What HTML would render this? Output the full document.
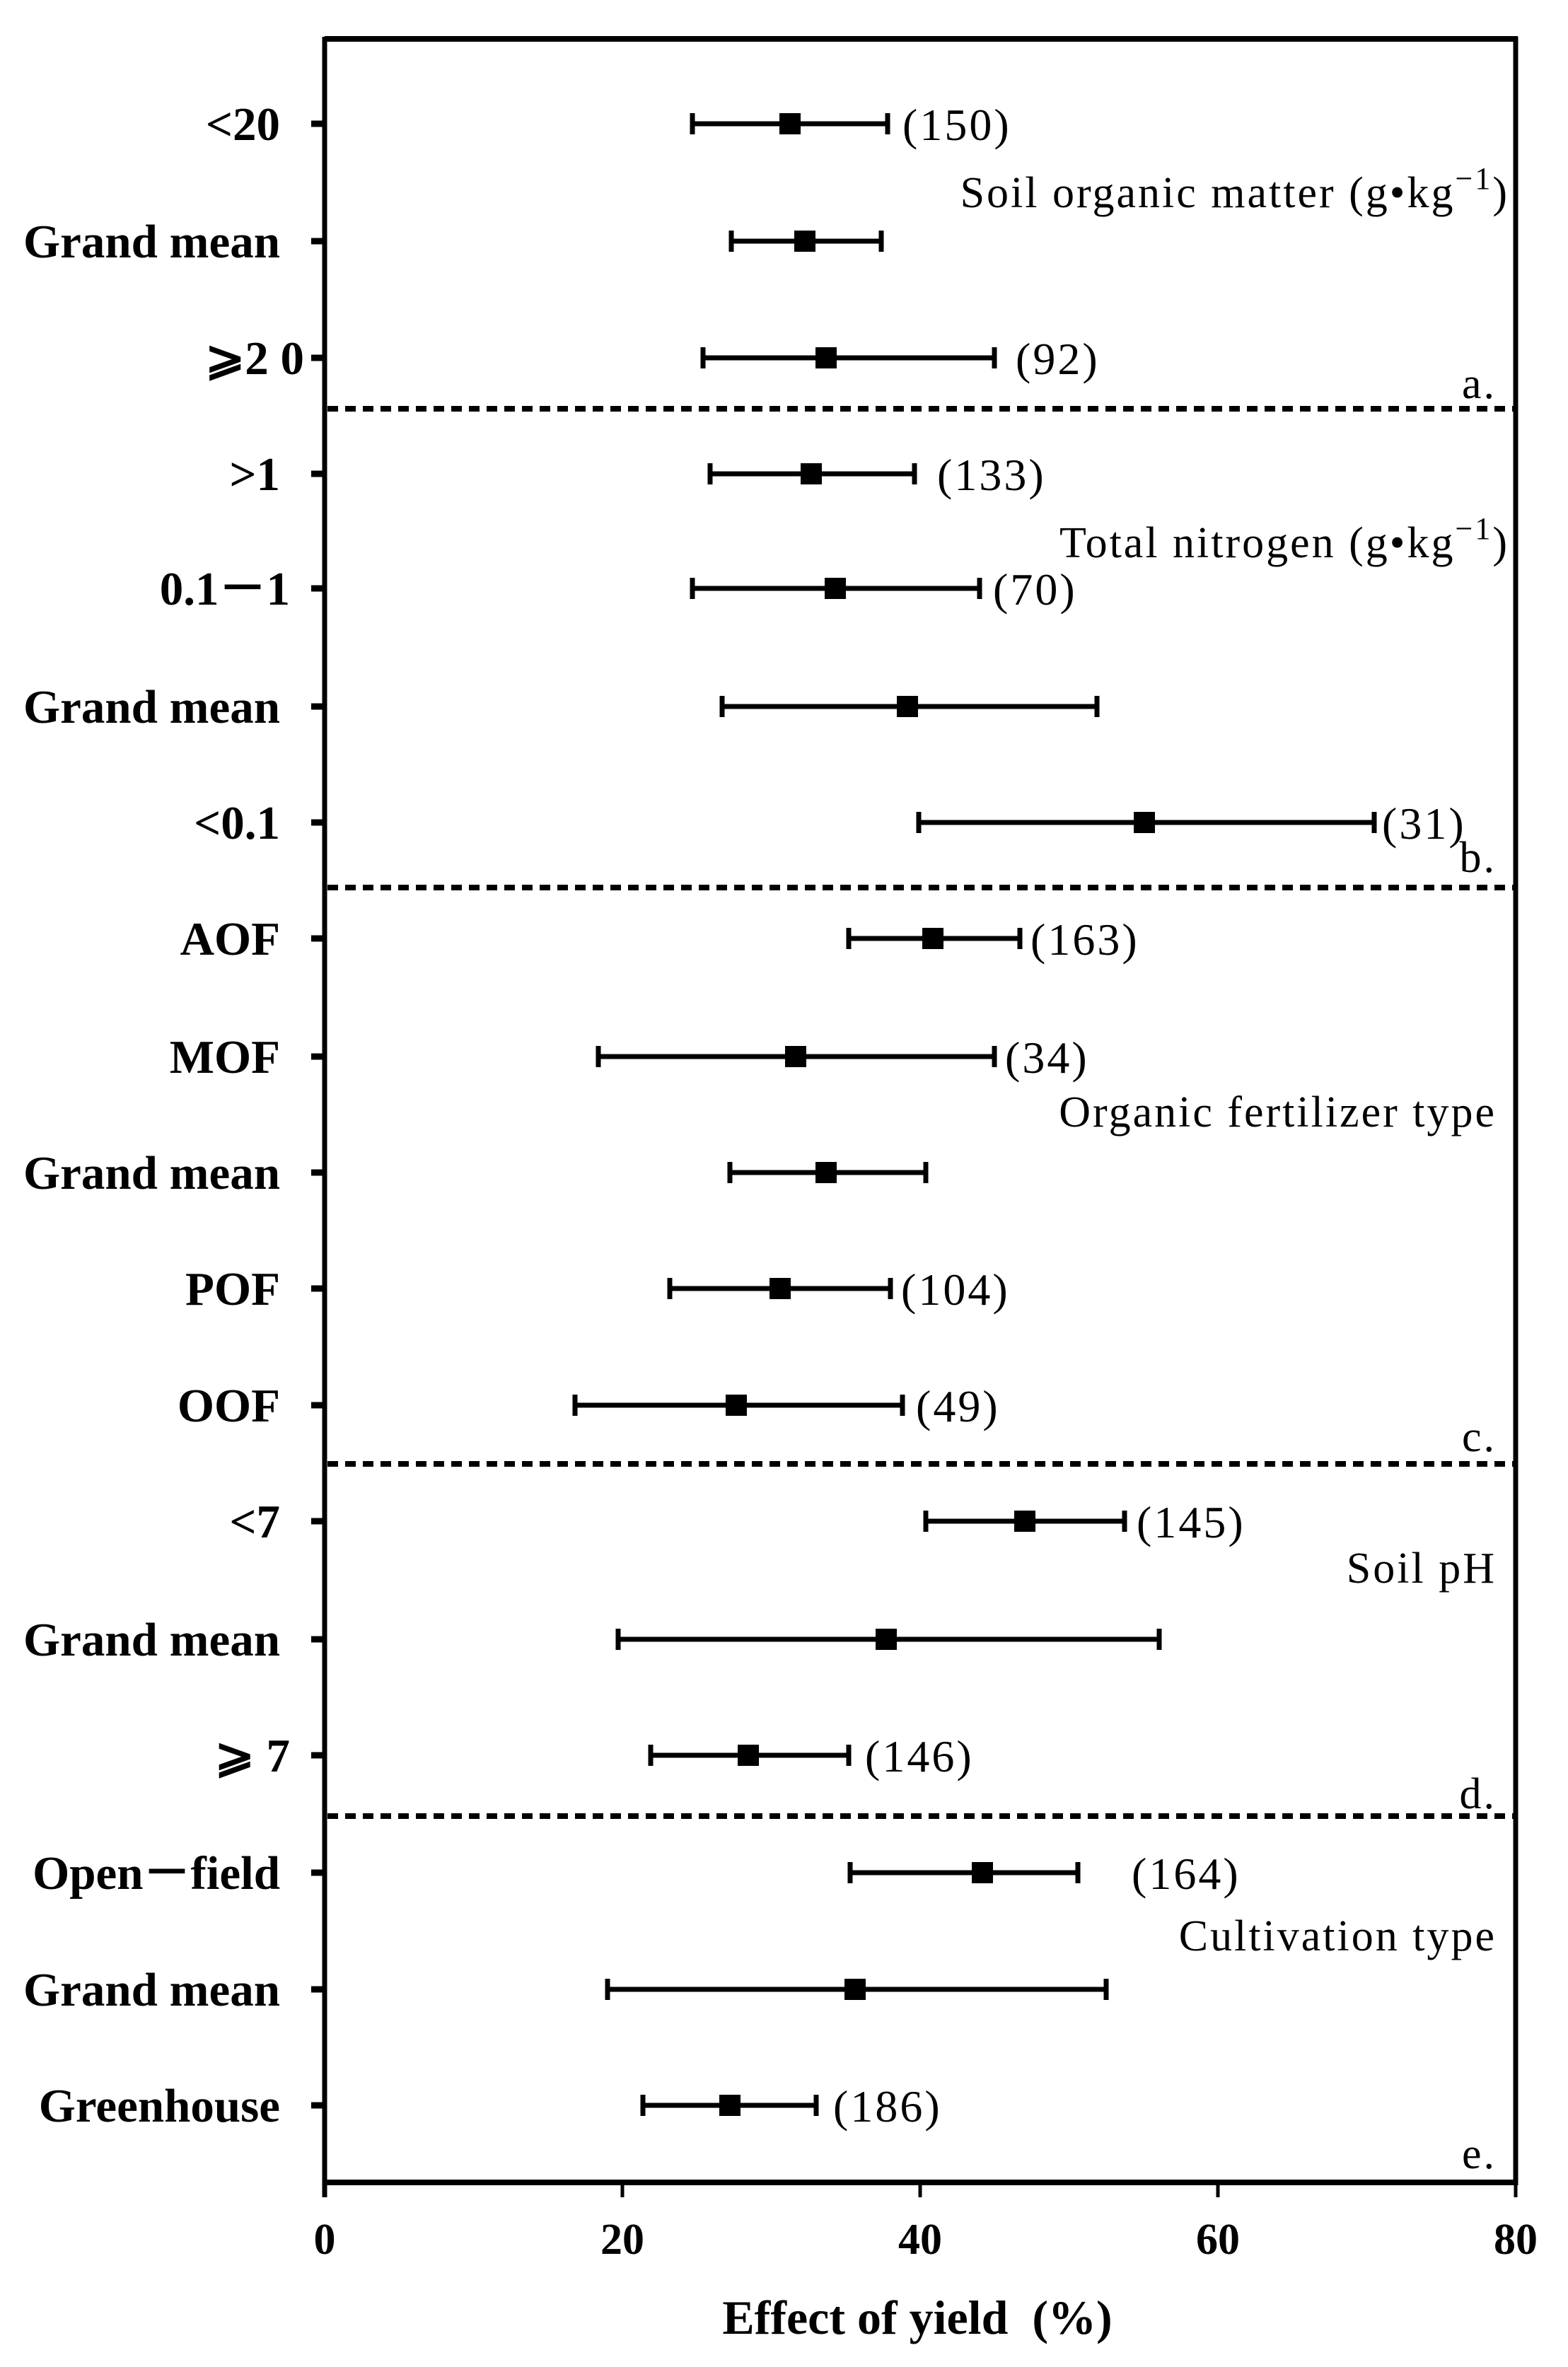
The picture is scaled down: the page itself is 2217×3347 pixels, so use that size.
<!DOCTYPE html>
<html><head><meta charset="utf-8"><style>
html,body{margin:0;padding:0;background:#fff;}
svg{display:block;}
text{font-family:"Liberation Serif",serif;fill:#000;white-space:pre;}
.yl{font-size:67px;font-weight:bold;text-anchor:end;}
.n{font-size:64px;letter-spacing:3px;}
.g{font-size:62px;text-anchor:end;letter-spacing:3px;}
.xt{font-size:62px;font-weight:bold;text-anchor:middle;}
</style></head><body>
<svg width="2217" height="3347" viewBox="0 0 2217 3347" xmlns="http://www.w3.org/2000/svg">
<rect width="2217" height="3347" fill="#fff"/>
<line x1="459" y1="55" x2="2146" y2="55" stroke="#000" stroke-width="8"/>
<line x1="2143" y1="52" x2="2143" y2="3090" stroke="#000" stroke-width="7"/>
<line x1="459" y1="52" x2="459" y2="3107" stroke="#000" stroke-width="7"/>
<line x1="459" y1="3086" x2="2146" y2="3086" stroke="#000" stroke-width="8"/>
<g stroke="#000" stroke-width="5">
<line x1="880" y1="3086" x2="880" y2="3107"/>
<line x1="1301" y1="3086" x2="1301" y2="3107"/>
<line x1="1722" y1="3086" x2="1722" y2="3107"/>
<line x1="2143" y1="3086" x2="2143" y2="3107"/>
</g>
<g class="xt">
<text x="459" y="3187">0</text><text x="880" y="3187">20</text><text x="1301" y="3187">40</text><text x="1722" y="3187">60</text><text x="2143" y="3187">80</text>
</g>
<text x="1297" y="3300" style="font-size:68px;font-weight:bold;text-anchor:middle">Effect of yield  (%)</text>
<g stroke="#000" stroke-width="8" stroke-dasharray="15,10">
<line x1="463" y1="578" x2="2140" y2="578"/>
<line x1="463" y1="1255" x2="2140" y2="1255"/>
<line x1="463" y1="2070" x2="2140" y2="2070"/>
<line x1="463" y1="2568" x2="2140" y2="2568"/>
</g>
<g stroke="#000" stroke-width="9">
<line x1="440" y1="175" x2="459" y2="175"/><line x1="440" y1="341" x2="459" y2="341"/><line x1="440" y1="506" x2="459" y2="506"/>
<line x1="440" y1="670" x2="459" y2="670"/><line x1="440" y1="832" x2="459" y2="832"/><line x1="440" y1="999" x2="459" y2="999"/><line x1="440" y1="1163" x2="459" y2="1163"/>
<line x1="440" y1="1327" x2="459" y2="1327"/><line x1="440" y1="1494" x2="459" y2="1494"/><line x1="440" y1="1658" x2="459" y2="1658"/><line x1="440" y1="1822" x2="459" y2="1822"/><line x1="440" y1="1987" x2="459" y2="1987"/>
<line x1="440" y1="2151" x2="459" y2="2151"/><line x1="440" y1="2318" x2="459" y2="2318"/><line x1="440" y1="2482" x2="459" y2="2482"/>
<line x1="440" y1="2648" x2="459" y2="2648"/><line x1="440" y1="2813" x2="459" y2="2813"/><line x1="440" y1="2977" x2="459" y2="2977"/>
</g>
<g class="yl">
<text x="396" y="198">&lt;20</text>
<text x="396" y="364">Grand mean</text>
<text x="430" y="529">⩾2 0</text>
<text x="396" y="693">&gt;1</text>
<text x="410" y="855">0.1－1</text>
<text x="396" y="1022">Grand mean</text>
<text x="396" y="1186">&lt;0.1</text>
<text x="396" y="1350">AOF</text>
<text x="396" y="1517">MOF</text>
<text x="396" y="1681">Grand mean</text>
<text x="396" y="1845">POF</text>
<text x="396" y="2010">OOF</text>
<text x="396" y="2174">&lt;7</text>
<text x="396" y="2341">Grand mean</text>
<text x="410" y="2505">⩾ 7</text>
<text x="396" y="2671">Open－field</text>
<text x="396" y="2836">Grand mean</text>
<text x="396" y="3000">Greenhouse</text>
</g>
<g stroke="#000" stroke-width="7" fill="none">
<path d="M979 175H1255M979 160V190M1255 160V190"/>
<path d="M1034 341H1246M1034 326V356M1246 326V356"/>
<path d="M994 506H1406M994 491V521M1406 491V521"/>
<path d="M1004 670H1293M1004 655V685M1293 655V685"/>
<path d="M979 832H1385M979 817V847M1385 817V847"/>
<path d="M1021 999H1551M1021 984V1014M1551 984V1014"/>
<path d="M1299 1163H1943M1299 1148V1178M1943 1148V1178"/>
<path d="M1200 1327H1442M1200 1312V1342M1442 1312V1342"/>
<path d="M846 1494H1406M846 1479V1509M1406 1479V1509"/>
<path d="M1032 1658H1309M1032 1643V1673M1309 1643V1673"/>
<path d="M947 1822H1259M947 1807V1837M1259 1807V1837"/>
<path d="M813 1987H1276M813 1972V2002M1276 1972V2002"/>
<path d="M1309 2151H1590M1309 2136V2166M1590 2136V2166"/>
<path d="M874 2318H1639M874 2303V2333M1639 2303V2333"/>
<path d="M920 2482H1200M920 2467V2497M1200 2467V2497"/>
<path d="M1202 2648H1524M1202 2633V2663M1524 2633V2663"/>
<path d="M859 2813H1564M859 2798V2828M1564 2798V2828"/>
<path d="M909 2977H1154M909 2962V2992M1154 2962V2992"/>
</g>
<g fill="#000">
<rect x="1102" y="160" width="30" height="30"/>
<rect x="1123" y="326" width="30" height="30"/>
<rect x="1153" y="491" width="30" height="30"/>
<rect x="1132" y="655" width="30" height="30"/>
<rect x="1166" y="817" width="30" height="30"/>
<rect x="1268" y="984" width="30" height="30"/>
<rect x="1603" y="1148" width="30" height="30"/>
<rect x="1304" y="1312" width="30" height="30"/>
<rect x="1110" y="1479" width="30" height="30"/>
<rect x="1153" y="1643" width="30" height="30"/>
<rect x="1088" y="1807" width="30" height="30"/>
<rect x="1026" y="1972" width="30" height="30"/>
<rect x="1434" y="2136" width="30" height="30"/>
<rect x="1238" y="2303" width="30" height="30"/>
<rect x="1043" y="2467" width="30" height="30"/>
<rect x="1374" y="2633" width="30" height="30"/>
<rect x="1194" y="2798" width="30" height="30"/>
<rect x="1017" y="2962" width="30" height="30"/>
</g>
<g class="n">
<text x="1276" y="198">(150)</text>
<text x="1436" y="529">(92)</text>
<text x="1325" y="693">(133)</text>
<text x="1404" y="855">(70)</text>
<text x="1954" y="1186">(31)</text>
<text x="1457" y="1350">(163)</text>
<text x="1421" y="1517">(34)</text>
<text x="1274" y="1845">(104)</text>
<text x="1295" y="2010">(49)</text>
<text x="1607" y="2174">(145)</text>
<text x="1223" y="2505">(146)</text>
<text x="1600" y="2671">(164)</text>
<text x="1178" y="3000">(186)</text>
</g>
<g class="g">
<text x="2134" y="293">Soil organic matter (g•kg<tspan dy="-26" font-size="44">−1</tspan><tspan dy="26">)</tspan></text>
<text x="2134" y="788">Total nitrogen (g•kg<tspan dy="-26" font-size="44">−1</tspan><tspan dy="26">)</tspan></text>
<text x="2116" y="1593">Organic fertilizer type</text>
<text x="2116" y="2238">Soil pH</text>
<text x="2116" y="2758">Cultivation type</text>
<text x="2116" y="563">a.</text>
<text x="2116" y="1233">b.</text>
<text x="2116" y="2052">c.</text>
<text x="2116" y="2557">d.</text>
<text x="2116" y="3066">e.</text>
</g>
</svg>
</body></html>
